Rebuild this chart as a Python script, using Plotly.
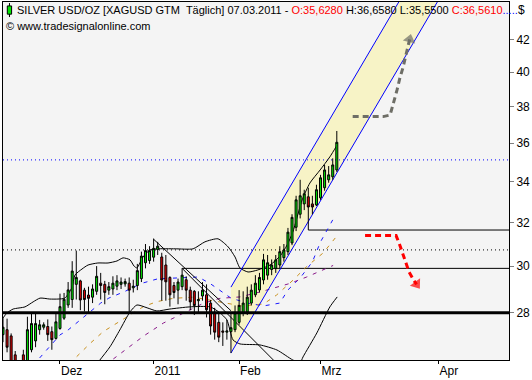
import math
import plotly.graph_objects as go

# ---------------- data ----------------
bar_index = list(range(-14, 69))  # trading-day index, 0 = 01.12.2010

open_ = [27.10, 27.30, 27.05, 26.30, 25.60, 26.30, 26.00, 26.50, 26.85, 27.30,
         27.40, 27.43, 27.22, 26.95, 27.35, 27.77, 28.32, 28.55, 29.20, 29.35,
         28.95, 28.74, 28.65, 28.90, 29.25, 29.20, 28.95, 29.00, 29.12, 29.20,
         29.22, 29.25, 29.05, 29.15, 29.45, 30.15, 30.25, 30.40, 30.75, 30.41,
         30.05, 29.50, 29.15, 28.95, 29.10, 29.40, 28.95, 28.90, 28.50, 28.70,
         28.75, 28.40, 27.99, 27.60, 27.25, 27.20, 27.22, 27.30, 27.60, 27.99,
         28.02, 28.40, 28.75, 28.96, 29.39, 29.60, 29.85, 29.90, 30.05, 30.38,
         30.65, 31.05, 31.78, 32.40, 32.90, 33.25, 32.90, 32.85, 33.20, 33.70,
         34.10, 34.25, 34.60]
high = [27.80, 27.75, 27.15, 26.45, 26.00, 26.50, 27.83, 27.97, 27.97, 27.70,
        27.60, 27.72, 27.43, 27.97, 28.80, 28.83, 29.30, 30.22, 30.70, 29.40,
        29.05, 29.10, 29.20, 30.00, 29.70, 29.35, 29.30, 29.55, 29.60, 29.50,
        29.45, 29.50, 29.40, 30.10, 30.65, 31.00, 30.90, 31.25, 31.10, 30.60,
        30.50, 29.55, 29.30, 29.45, 29.90, 29.55, 29.10, 28.95, 28.90, 29.30,
        29.20, 28.53, 28.20, 27.99, 27.60, 27.70, 27.99, 28.30, 28.95, 28.90,
        29.10, 29.20, 29.60, 29.70, 30.55, 30.50, 30.30, 30.50, 30.90, 31.00,
        31.75, 32.40, 33.30, 34.10, 33.60, 33.70, 33.30, 33.85, 34.35, 34.86,
        34.80, 35.20, 36.66]
low = [26.80, 26.40, 25.80, 25.50, 25.10, 25.80, 25.90, 26.40, 26.60, 27.10,
       27.30, 26.85, 26.50, 26.90, 27.30, 27.70, 28.20, 28.20, 28.55, 28.10,
       28.05, 28.00, 28.40, 28.75, 28.55, 28.35, 28.75, 28.75, 28.95, 29.00,
       29.10, 27.98, 28.85, 28.95, 29.30, 29.90, 30.10, 30.20, 30.50, 28.50,
       28.50, 28.25, 28.60, 28.35, 28.95, 28.50, 28.10, 27.90, 27.95, 28.50,
       27.80, 27.10, 26.90, 26.80, 26.65, 26.90, 26.37, 27.20, 27.50, 27.85,
       27.90, 28.30, 28.65, 28.85, 29.20, 29.40, 29.60, 29.70, 29.90, 30.20,
       30.50, 30.95, 31.60, 32.20, 32.60, 31.65, 32.40, 32.80, 33.10, 33.55,
       33.95, 34.10, 34.50]
close = [27.40, 26.60, 25.95, 25.70, 25.85, 25.95, 27.30, 27.55, 27.55, 27.50,
         27.50, 27.10, 26.90, 27.62, 28.25, 28.56, 28.96, 29.78, 29.50, 28.53,
         28.55, 28.60, 29.00, 29.55, 29.15, 28.85, 29.10, 29.25, 29.35, 29.30,
         29.32, 28.95, 29.12, 29.80, 30.45, 30.70, 30.70, 30.80, 30.90, 29.39,
         29.31, 28.75, 28.85, 29.30, 29.60, 28.95, 28.45, 28.30, 28.55, 28.95,
         28.12, 27.45, 27.20, 27.00, 27.20, 27.25, 27.38, 27.99, 28.30, 28.40,
         28.65, 28.95, 29.25, 29.50, 30.28, 30.15, 30.05, 30.28, 30.65, 30.73,
         31.55, 32.25, 33.10, 33.30, 33.40, 32.75, 32.75, 33.60, 34.20, 34.60,
         34.35, 34.86, 36.05]

# Bollinger bands
bb_upper_x = [-14.0, -13.0, -11.5, -8.6, -6.6, -4.9, -2.5, -0.5, 1.2, 2.9, 3.7, 5.4,
              6.9, 9.3, 11.8, 14.0, 15.5, 17.2, 18.2, 18.9, 20.4, 22.1, 23.8, 28.3,
              32.7, 35.6, 38.8, 41.3, 43.0, 44.2, 46.2, 48.6, 51.6, 54.1, 55.8,
              57.2, 59.5, 61.4, 63.9, 66.3, 68.1]
bb_upper_y = [27.78, 27.99, 28.15, 28.24, 28.45, 28.61, 28.57, 28.57, 28.61, 29.05,
              29.61, 29.87, 30.05, 30.14, 30.14, 30.23, 30.37, 30.28, 30.00, 29.92,
              30.41, 30.73, 30.78, 30.78, 30.78, 31.10, 31.24, 30.87, 30.41, 29.92,
              29.74, 29.83, 30.05, 30.46, 30.96, 31.56, 33.10, 33.94, 34.60, 35.28,
              35.91]
bb_lower_x = [7.4, 9.8, 12.3, 14.7, 17.2, 18.9, 21.4, 23.8, 27.0, 31.9, 36.9, 39.3,
              41.0, 42.5, 44.2, 49.1, 53.3, 57.2, 59.0, 59.7, 63.1, 66.3, 68.1]
bb_lower_y = [25.60, 26.10, 26.62, 27.29, 28.03, 28.32, 28.20, 28.07, 28.15, 28.24,
              28.24, 27.99, 27.70, 26.89, 26.73, 26.69, 26.49, 26.10, 26.00, 26.22,
              27.17, 28.24, 28.66]

# moving averages
ma_blue_x = [-5, 0, 2, 5, 7, 10, 12, 16, 20, 24, 29, 34, 37, 39, 42, 46, 50, 54, 56,
             59, 62, 64, 67]
ma_blue_y = [26.18, 27.09, 27.29, 27.70, 27.99, 28.40, 28.61, 28.90, 29.24, 29.44,
             29.48, 29.52, 29.22, 28.96, 28.61, 28.40, 28.28, 28.40, 28.96, 29.48,
             30.19, 31.10, 32.13]
ma_orange_x = [4.1, 7.4, 10.6, 13.9, 17.2, 20.5, 23.8, 27.8, 32.8, 38.1, 44.6, 50.0,
               53.2, 57.3, 60.6, 64.7, 68.0]
ma_orange_y = [26.23, 26.75, 27.22, 27.56, 27.90, 28.25, 28.46, 28.60, 28.65, 28.49,
               28.28, 28.36, 28.74, 29.39, 29.98, 30.60, 31.37]
ma_purple_x = [13.1, 17.2, 20.5, 25.4, 30.3, 35.2, 39.3, 44.2, 49.1, 53.2, 56.5,
               60.6, 67.1]
ma_purple_y = [26.14, 26.65, 27.04, 27.57, 27.98, 28.39, 28.60, 28.66, 28.87, 29.06,
               29.24, 29.52, 30.03]

# trend channel (Jan-28 low anchor)
channel_lower_x = [42, 92.98]
channel_lower_y = [26.37, 44.52]
channel_upper_x = [42, 83.5]
channel_upper_y = [29.08, 44.52]

# downtrend lines
trend_a_x = [23, 42]
trend_a_y = [31.22, 28.08]
trend_b_x = [30, 54]
trend_b_y = [29.90, 25.85]

# horizontal levels
level_thick = 28.0
level_dotted_black = 30.73
level_dotted_blue = 35.12
level_29 = 29.90
level_29_start = 30
level_31 = 31.65
level_31_start = 61

# projection arrows
arrow_up_x = [71.9, 79.4, 81.1, 82.1, 82.8, 83.5, 84.3, 85.0, 85.9]
arrow_up_y = [37.45, 37.45, 37.54, 38.33, 38.96, 39.66, 40.31, 41.05, 42.0]
arrow_down_x = [74.94, 82.56, 83.29, 84.03, 84.77, 85.75, 86.98, 87.6]
arrow_down_y = [31.39, 31.39, 31.05, 30.64, 30.19, 29.74, 29.35, 29.2]

x_tick_vals = [0, 23, 44, 64, 93]
x_tick_text = ["Dez", "2011", "Feb", "Mrz", "Apr"]
y_tick_vals = [28, 30, 32, 34, 36, 38, 40, 42]

X_MIN, X_MAX = -14.0, 110.3
Y_MIN, Y_MAX = 26.10, 44.39

FONT = "Liberation Sans"

fig = go.Figure()

# ---- bottom layer (x, y) ----
fig.add_trace(go.Scatter(
    x=[channel_lower_x[0], channel_upper_x[0], channel_upper_x[1], channel_lower_x[1]],
    y=[channel_lower_y[0], channel_upper_y[0], channel_upper_y[1], channel_lower_y[1]],
    fill="toself", fillcolor="#f7f3c6", line=dict(width=0), mode="lines",
    hoverinfo="skip"))


def hline(y, x0, dash="solid", color="black", width=1, yaxis="y"):
    fig.add_trace(go.Scatter(x=[x0, X_MAX], y=[y, y], mode="lines", yaxis=yaxis,
                             line=dict(color=color, width=width, dash=dash),
                             hoverinfo="skip"))


hline(level_dotted_black, X_MIN, dash="1px,3px")
hline(level_dotted_blue, X_MIN, dash="1px,3px", color="#0000ff")
hline(level_29, level_29_start)
hline(level_31, level_31_start)

for xs, ys, col in [(ma_blue_x, ma_blue_y, "#1a1aff"),
                    (ma_orange_x, ma_orange_y, "#c8901e"),
                    (ma_purple_x, ma_purple_y, "#8a1a8a")]:
    fig.add_trace(go.Scatter(x=xs, y=ys, mode="lines",
                             line=dict(color=col, width=1, dash="4px,6px"),
                             hoverinfo="skip"))

for xs, ys in [(bb_upper_x, bb_upper_y), (bb_lower_x, bb_lower_y)]:
    fig.add_trace(go.Scatter(x=xs, y=ys, mode="lines",
                             line=dict(color="black", width=1, shape="spline",
                                       smoothing=0.6),
                             hoverinfo="skip"))

for xs, ys in [(trend_a_x, trend_a_y), (trend_b_x, trend_b_y)]:
    fig.add_trace(go.Scatter(x=xs, y=ys, mode="lines",
                             line=dict(color="black", width=1), hoverinfo="skip"))

for xs, ys in [(channel_lower_x, channel_lower_y), (channel_upper_x, channel_upper_y)]:
    fig.add_trace(go.Scatter(x=xs, y=ys, mode="lines",
                             line=dict(color="#0000ff", width=1), hoverinfo="skip"))

# ---- top layer (x, y2 overlay) ----
fig.add_trace(go.Candlestick(
    x=bar_index, open=open_, high=high, low=low, close=close, yaxis="y2",
    increasing=dict(fillcolor="#00e600", line=dict(color="black", width=1)),
    decreasing=dict(fillcolor="#e60000", line=dict(color="black", width=1)),
    whiskerwidth=0, hoverinfo="skip"))

hline(level_thick, X_MIN, width=3, yaxis="y2")

for xs, ys, col in [(arrow_up_x, arrow_up_y, "#6e6e66"),
                    (arrow_down_x, arrow_down_y, "#ff0000")]:
    fig.add_trace(go.Scatter(
        x=xs, y=ys, mode="lines+markers", yaxis="y2",
        line=dict(color=col, width=3, dash="6px,4px"),
        marker=dict(size=[0] * (len(xs) - 1) + [11], symbol="triangle-up",
                    angleref="previous", color=col, line=dict(width=0)),
        hoverinfo="skip"))

# header icon (small green candle)
fig.add_shape(type="line", xref="paper", yref="paper", x0=0.0128, x1=0.0128,
              y0=0.958, y1=0.997, line=dict(color="black", width=1))
fig.add_shape(type="rect", xref="paper", yref="paper", x0=0.0085, x1=0.0170,
              y0=0.966, y1=0.989, fillcolor="#00e600", line=dict(color="black", width=1))

header = ("SILVER USD/OZ [XAGUSD GTM  Täglich] 07.03.2011 - "
          "<span style='color:#ff0000'>O:35,6280</span> H:36,6580 L:35,5500 "
          "<span style='color:#ff0000'>C:36,5610</span>"
          "<span style='color:#0000ff'>.....</span>")
fig.add_annotation(text=header, xref="paper", yref="paper", x=0.0245, y=0.9777,
                   xanchor="left", yanchor="middle", showarrow=False,
                   font=dict(family=FONT, size=11, color="black"))
fig.add_annotation(text="© www.tradesignalonline.com", xref="paper", yref="paper",
                   x=0.002, y=0.933, xanchor="left", yanchor="middle", showarrow=False,
                   font=dict(family=FONT, size=11, color="black"))
fig.add_annotation(text="$", xref="paper", yref="paper", x=1.014, y=0.9777,
                   xanchor="left", yanchor="middle", showarrow=False,
                   font=dict(family=FONT, size=12, color="black"))

fig.update_layout(
    width=532, height=380,
    margin=dict(l=3, r=23, t=2, b=20),
    paper_bgcolor="white", plot_bgcolor="#f4f4f4",
    showlegend=False,
    font=dict(family=FONT, size=12, color="black"),
    xaxis=dict(
        range=[X_MIN, X_MAX], showgrid=False, zeroline=False,
        showline=True, mirror=True, linecolor="black", linewidth=1,
        tickmode="array", tickvals=x_tick_vals, ticktext=x_tick_text,
        ticks="outside", ticklen=3, tickcolor="black",
        ticklabelposition="outside right",
        tickfont=dict(family=FONT, size=12),
        rangeslider=dict(visible=False), fixedrange=True),
    yaxis=dict(
        type="log", range=[math.log10(Y_MIN), math.log10(Y_MAX)],
        side="right", showgrid=False, zeroline=False,
        showline=True, mirror=True, linecolor="black", linewidth=1,
        tickmode="array", tickvals=y_tick_vals,
        ticktext=[str(v) for v in y_tick_vals],
        ticks="outside", ticklen=4, tickcolor="#808080",
        tickfont=dict(family=FONT, size=12), fixedrange=True),
    yaxis2=dict(
        type="log", range=[math.log10(Y_MIN), math.log10(Y_MAX)],
        overlaying="y", side="right", visible=False, showgrid=False,
        zeroline=False, fixedrange=True),
)

fig.write_html("out.html",
               config={"displayModeBar": False, "staticPlot": True},
               post_script="document.body.style.margin='0';"
                           "document.body.style.padding='0';")
